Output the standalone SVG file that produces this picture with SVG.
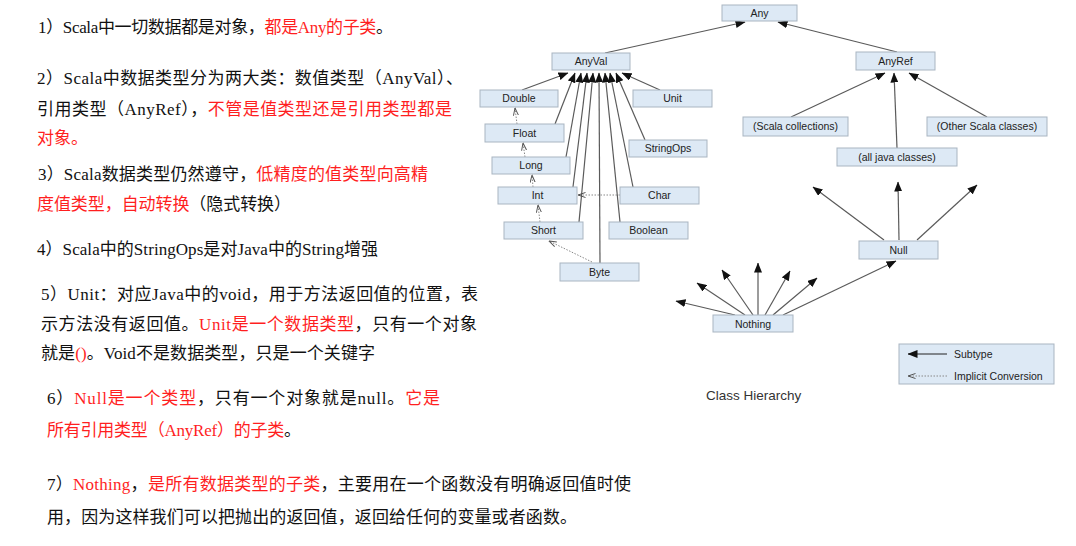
<svg xmlns="http://www.w3.org/2000/svg" width="1076" height="546" viewBox="0 0 1076 546">
<style>
.t{font-family:"Liberation Serif","Noto Sans CJK SC",serif;font-size:17px;fill:#111}
.r{fill:#ff1f1f}
.box{fill:#dde9f5;stroke:#a9b5c1;stroke-width:1}
.lbl{font-family:"Liberation Sans",Arial,sans-serif;font-size:10.5px;fill:#222;text-anchor:middle}
.sub{fill:none;stroke:#5a5a5a;stroke-width:1.2;marker-end:url(#ah)}
.imp{fill:none;stroke:#888;stroke-width:1;stroke-dasharray:1.5 1.5;marker-end:url(#oh)}
</style>
<defs>
<marker id="ah" markerUnits="userSpaceOnUse" markerWidth="10" markerHeight="8" refX="9.5" refY="4" orient="auto">
<path d="M0,0 L10,4 L0,8 z" fill="#111"/>
</marker>
<marker id="oh" markerUnits="userSpaceOnUse" markerWidth="8" markerHeight="6" refX="7.5" refY="3" orient="auto">
<path d="M0,0.5 L7.5,3 L0,5.5" fill="none" stroke="#555" stroke-width="1"/>
</marker>
</defs>
<rect width="1076" height="546" fill="#fff"/>

<g id="notes">
<text class="t" x="38" y="32.5" textLength="355" lengthAdjust="spacing">1）Scala中一切数据都是对象，<tspan class="r">都是Any的子类</tspan>。</text>
<text class="t" x="37" y="83.5" textLength="426" lengthAdjust="spacing">2）Scala中数据类型分为两大类：数值类型（AnyVal）、</text>
<text class="t" x="37" y="114.5" textLength="415" lengthAdjust="spacing">引用类型（AnyRef），<tspan class="r">不管是值类型还是引用类型都是</tspan></text>
<text class="t r" x="37" y="143.5">对象。</text>
<text class="t" x="38" y="179.5" textLength="390" lengthAdjust="spacing">3）Scala数据类型仍然遵守，<tspan class="r">低精度的值类型向高精</tspan></text>
<text class="t" x="37" y="209.5" textLength="254" lengthAdjust="spacing"><tspan class="r">度值类型，自动转换</tspan>（隐式转换）</text>
<text class="t" x="37" y="254.5" textLength="341" lengthAdjust="spacing">4）Scala中的StringOps是对Java中的String增强</text>
<text class="t" x="41" y="299.5" textLength="437" lengthAdjust="spacing">5）Unit：对应Java中的void，用于方法返回值的位置，表</text>
<text class="t" x="41" y="329.5" textLength="436" lengthAdjust="spacing">示方法没有返回值。<tspan class="r">Unit是一个数据类型</tspan>，只有一个对象</text>
<text class="t" x="41" y="358.5" textLength="334" lengthAdjust="spacing">就是<tspan class="r">()</tspan>。Void不是数据类型，只是一个关键字</text>
<text class="t" x="47" y="403.5" textLength="393" lengthAdjust="spacing">6）<tspan class="r">Null是一个类型</tspan>，只有一个对象就是null。<tspan class="r">它是</tspan></text>
<text class="t" x="47" y="435.5" textLength="254" lengthAdjust="spacing"><tspan class="r">所有引用类型（AnyRef）的子类</tspan>。</text>
<text class="t" x="47" y="489.5" textLength="584" lengthAdjust="spacing">7）<tspan class="r">Nothing</tspan>，<tspan class="r">是所有数据类型的子类</tspan>，主要用在一个函数没有明确返回值时使</text>
<text class="t" x="47" y="522.5" textLength="530" lengthAdjust="spacing">用，因为这样我们可以把抛出的返回值，返回给任何的变量或者函数。</text>
</g>

<g id="connectors">
<line class="sub" x1="605" y1="53" x2="745" y2="22"/>
<line class="sub" x1="897" y1="52" x2="778" y2="22"/>
<line class="sub" x1="522" y1="90" x2="568" y2="73"/>
<line class="sub" x1="555" y1="124" x2="575" y2="73"/>
<line class="sub" x1="566" y1="157" x2="581" y2="73"/>
<line class="sub" x1="573" y1="187" x2="587" y2="73"/>
<line class="sub" x1="579" y1="222" x2="593" y2="73"/>
<line class="sub" x1="600" y1="263" x2="599" y2="73"/>
<line class="sub" x1="620" y1="222" x2="605" y2="73"/>
<line class="sub" x1="633" y1="187" x2="610" y2="73"/>
<line class="sub" x1="645" y1="140" x2="616" y2="73"/>
<line class="sub" x1="660" y1="90" x2="622" y2="73"/>
<line class="sub" x1="791" y1="117" x2="885" y2="73"/>
<line class="sub" x1="897" y1="148" x2="894" y2="73"/>
<line class="sub" x1="987" y1="117" x2="909" y2="73"/>
<line class="sub" x1="884" y1="240" x2="813" y2="187"/>
<line class="sub" x1="899" y1="240" x2="898" y2="182"/>
<line class="sub" x1="917" y1="240" x2="977" y2="185"/>
<line class="sub" x1="735" y1="315" x2="676" y2="301"/>
<line class="sub" x1="745" y1="315" x2="697" y2="283"/>
<line class="sub" x1="753" y1="315" x2="722" y2="270"/>
<line class="sub" x1="758" y1="315" x2="758" y2="263"/>
<line class="sub" x1="765" y1="315" x2="790" y2="271"/>
<line class="sub" x1="773" y1="315" x2="817" y2="278"/>
<line class="sub" x1="783" y1="315" x2="896" y2="261"/>
<line class="imp" x1="517" y1="124" x2="515" y2="108"/>
<line class="imp" x1="525" y1="157" x2="523" y2="143"/>
<line class="imp" x1="533" y1="187" x2="532" y2="175"/>
<line class="imp" x1="540" y1="222" x2="538" y2="205"/>
<line class="imp" x1="592" y1="262" x2="549" y2="241"/>
<line class="imp" x1="620" y1="195" x2="578" y2="195"/>
</g>

<g id="any"><rect class="box" x="722" y="5" width="75" height="16"/><text class="lbl" x="759.5" y="16.5">Any</text></g>
<g id="anyval"><rect class="box" x="552" y="53" width="78" height="17"/><text class="lbl" x="591" y="65">AnyVal</text></g>
<g id="anyref"><rect class="box" x="856" y="52" width="79" height="18"/><text class="lbl" x="895.5" y="65">AnyRef</text></g>
<g id="double"><rect class="box" x="480" y="90" width="78" height="17"/><text class="lbl" x="519" y="102">Double</text></g>
<g id="unit"><rect class="box" x="633" y="90" width="79" height="17"/><text class="lbl" x="672.5" y="102">Unit</text></g>
<g id="float"><rect class="box" x="485" y="124" width="79" height="18"/><text class="lbl" x="524.5" y="137">Float</text></g>
<g id="stringops"><rect class="box" x="629" y="140" width="78" height="17"/><text class="lbl" x="668" y="152">StringOps</text></g>
<g id="long"><rect class="box" x="492" y="157" width="78" height="17"/><text class="lbl" x="531" y="169">Long</text></g>
<g id="int"><rect class="box" x="498" y="187" width="79" height="17"/><text class="lbl" x="537.5" y="199">Int</text></g>
<g id="char"><rect class="box" x="620" y="187" width="79" height="17"/><text class="lbl" x="659.5" y="199">Char</text></g>
<g id="short"><rect class="box" x="504" y="222" width="79" height="17"/><text class="lbl" x="543.5" y="234">Short</text></g>
<g id="boolean"><rect class="box" x="609" y="222" width="79" height="17"/><text class="lbl" x="648.5" y="234">Boolean</text></g>
<g id="byte"><rect class="box" x="560" y="263" width="79" height="18"/><text class="lbl" x="599.5" y="276">Byte</text></g>
<g id="scala-collections"><rect class="box" x="743" y="117" width="105" height="19"/><text class="lbl" x="795.5" y="130">(Scala collections)</text></g>
<g id="other-scala-classes"><rect class="box" x="927" y="117" width="120" height="19"/><text class="lbl" x="987" y="130">(Other Scala classes)</text></g>
<g id="all-java-classes"><rect class="box" x="837" y="148" width="120" height="18"/><text class="lbl" x="897" y="161">(all java classes)</text></g>
<g id="null"><rect class="box" x="859" y="241" width="79" height="18"/><text class="lbl" x="898.5" y="254">Null</text></g>
<g id="nothing"><rect class="box" x="713" y="315" width="80" height="17"/><text class="lbl" x="753" y="327.5">Nothing</text></g>

<g id="legend">
<rect class="box" x="899" y="344" width="155" height="40"/>
<line x1="947" y1="354" x2="908" y2="354" stroke="#222" stroke-width="1" marker-end="url(#ah)"/>
<text x="954" y="358" font-family="Liberation Sans, Arial, sans-serif" font-size="10.5" fill="#222">Subtype</text>
<line x1="947" y1="376" x2="908" y2="376" stroke="#888" stroke-width="1" stroke-dasharray="1.5 1.5" marker-end="url(#oh)"/>
<text x="954" y="380" font-family="Liberation Sans, Arial, sans-serif" font-size="10.5" fill="#222">Implicit Conversion</text>
</g>

<g id="caption">
<text x="706" y="399.5" font-family="Liberation Sans, Arial, sans-serif" font-size="13.5" fill="#333">Class Hierarchy</text>
</g>
</svg>
